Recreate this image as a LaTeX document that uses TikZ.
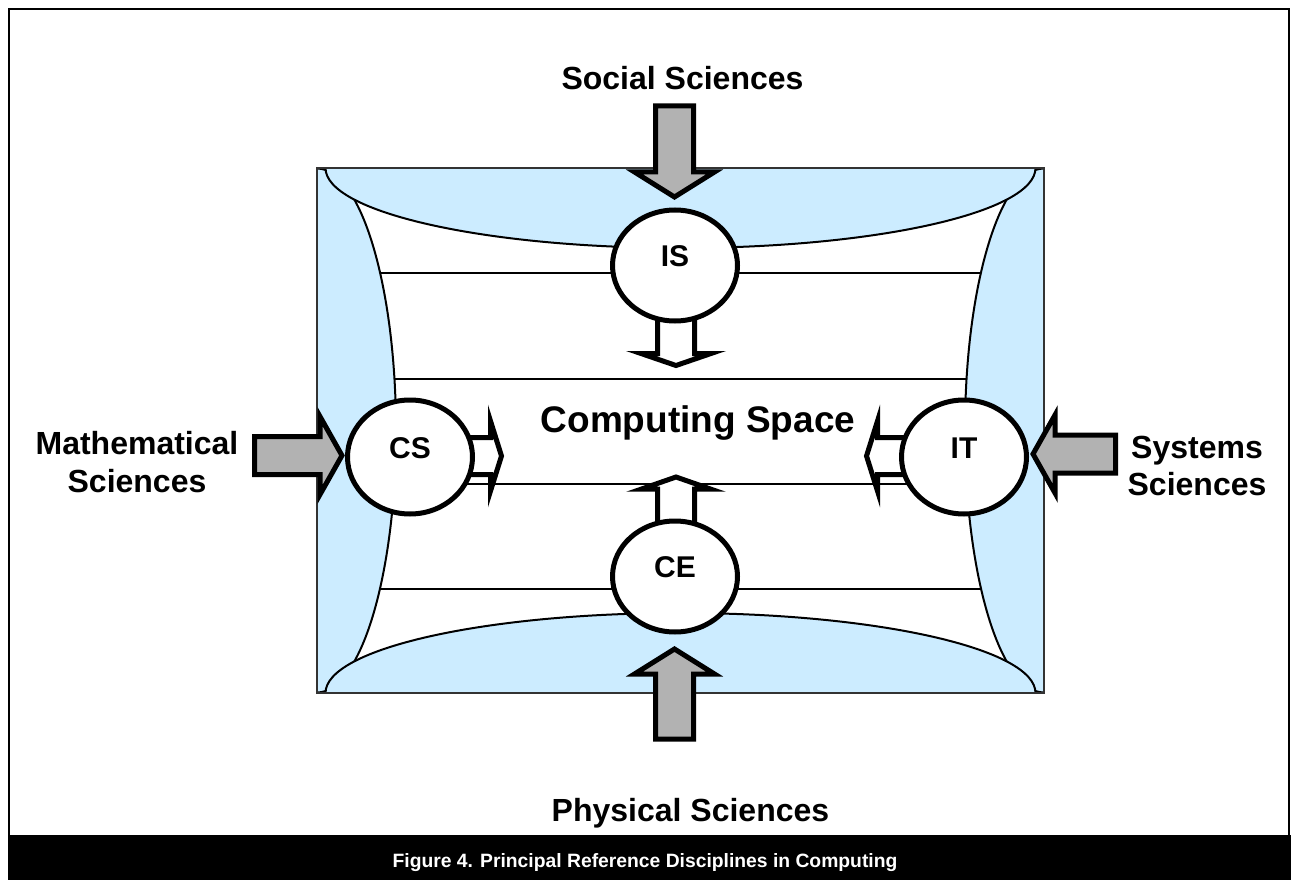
\documentclass[tikz,border=0pt]{standalone}
\usepackage{fontspec}
\setmainfont{Liberation Sans}
\usetikzlibrary{shapes.geometric}
\definecolor{lensblue}{RGB}{204,236,255}
\definecolor{arrowgray}{RGB}{178,178,178}
\begin{document}
\begin{tikzpicture}[x=1pt,y=-1pt,
  lens/.style={fill=lensblue,draw=black,line width=2pt},
  hline/.style={draw=black,line width=2pt},
  grayarrow/.style={fill=arrowgray,draw=black,line width=5pt,line join=miter,miter limit=12},
  whitearrow/.style={fill=white,draw=black,line width=5pt,line join=miter,miter limit=12},
  disc/.style={ellipse,draw=black,fill=white,line width=5pt,minimum width=125pt,minimum height=111pt,inner sep=0pt},
  disclabel/.style={font=\bfseries\fontsize{30}{36}\selectfont,inner sep=0pt},
  biglabel/.style={font=\bfseries\fontsize{32}{38}\selectfont,anchor=base,inner sep=0pt},
]
\useasboundingbox (0,0) rectangle (1291,880);
% outer frame and caption bar
\draw[line width=2pt] (8.5,836) -- (8.5,9) -- (1289,9) -- (1289,836);
\fill[black] (7.5,835) rectangle (1291,880);
\node[font=\bfseries\fontsize{19.3}{23}\selectfont,text=white,anchor=base,inner sep=0pt] (caption) at (645,867) {Figure 4. Principal Reference Disciplines in Computing};
% computing space box
\begin{scope}
  \clip (317,168) rectangle (1044,693);
  \fill[white] (317,168) rectangle (1044,693);
  \foreach \yy in {273,379,484,589} {\draw[hline] (317,\yy) -- (1044,\yy);}
  \filldraw[lens] (317,430.5) ellipse [x radius=79, y radius=262];
  \filldraw[lens] (1044,430.5) ellipse [x radius=79, y radius=262];
  \filldraw[lens] (680.5,168) ellipse [x radius=355, y radius=80];
  \filldraw[lens] (680.5,693) ellipse [x radius=355, y radius=80];
\end{scope}
\draw[line width=1.5pt,draw=black!80] (317,168) rectangle (1044,693);
% white arrows (into computing space)
\filldraw[whitearrow] (657.5,300) -- (694.5,300) -- (694.5,353.5) -- (711,353.5) -- (676,365.5) -- (641,353.5) -- (657.5,353.5) -- cycle;
\filldraw[whitearrow] (657.5,540) -- (694.5,540) -- (694.5,489.2) -- (711,489.2) -- (676,477) -- (641,489.2) -- (657.5,489.2) -- cycle;
\filldraw[whitearrow] (440,437.5) -- (490.5,437.5) -- (490.5,421) -- (501.5,456) -- (490.5,491) -- (490.5,474.5) -- (440,474.5) -- cycle;
\filldraw[whitearrow] (930,437.5) -- (877.5,437.5) -- (877.5,421) -- (866.5,456) -- (877.5,491) -- (877.5,474.5) -- (930,474.5) -- cycle;
% discipline discs
\node[disc] (IS) at (675,265.5) {};
\node[disc] (CE) at (675,576.5) {};
\node[disc,minimum height=114pt] (CS) at (410,457) {};
\node[disc,minimum height=114pt] (IT) at (964,457) {};
\node[disclabel] (ISl) at ([yshift=9pt]IS.center) {IS};
\node[disclabel] (CEl) at ([yshift=9pt]CE.center) {CE};
\node[disclabel] (CSl) at ([yshift=9pt]CS.center) {CS};
\node[disclabel] (ITl) at ([yshift=9pt]IT.center) {IT};
% gray arrows (reference disciplines)
\filldraw[grayarrow] (655.5,106) -- (693.5,106) -- (693.5,172) -- (714.5,172) -- (674.5,197) -- (634.5,172) -- (655.5,172) -- cycle;
\filldraw[grayarrow] (655.5,739) -- (693.5,739) -- (693.5,674) -- (714.5,674) -- (674.5,649) -- (634.5,674) -- (655.5,674) -- cycle;
\filldraw[grayarrow] (254.5,436.5) -- (320,436.5) -- (320,416.5) -- (342,455.5) -- (320,494.5) -- (320,474.5) -- (254.5,474.5) -- cycle;
\filldraw[grayarrow] (1115.5,435) -- (1055,435) -- (1055,415) -- (1033,454) -- (1055,493) -- (1055,473) -- (1115.5,473) -- cycle;
% texts
\node[biglabel] (social) at (682.5,89.5) {Social Sciences};
\node[biglabel] (phys) at (690.5,821) {Physical Sciences};
\node[biglabel] (math1) at (137,454.5) {Mathematical};
\node[biglabel] (math2) at (137,492.5) {Sciences};
\node[biglabel] (sys1) at (1197,458.5) {Systems};
\node[biglabel] (sys2) at (1197,495.5) {Sciences};
\node[font=\bfseries\fontsize{37}{44}\selectfont,anchor=base,inner sep=0pt] (space) at (698,432) {Computing Space};
\end{tikzpicture}
\end{document}
